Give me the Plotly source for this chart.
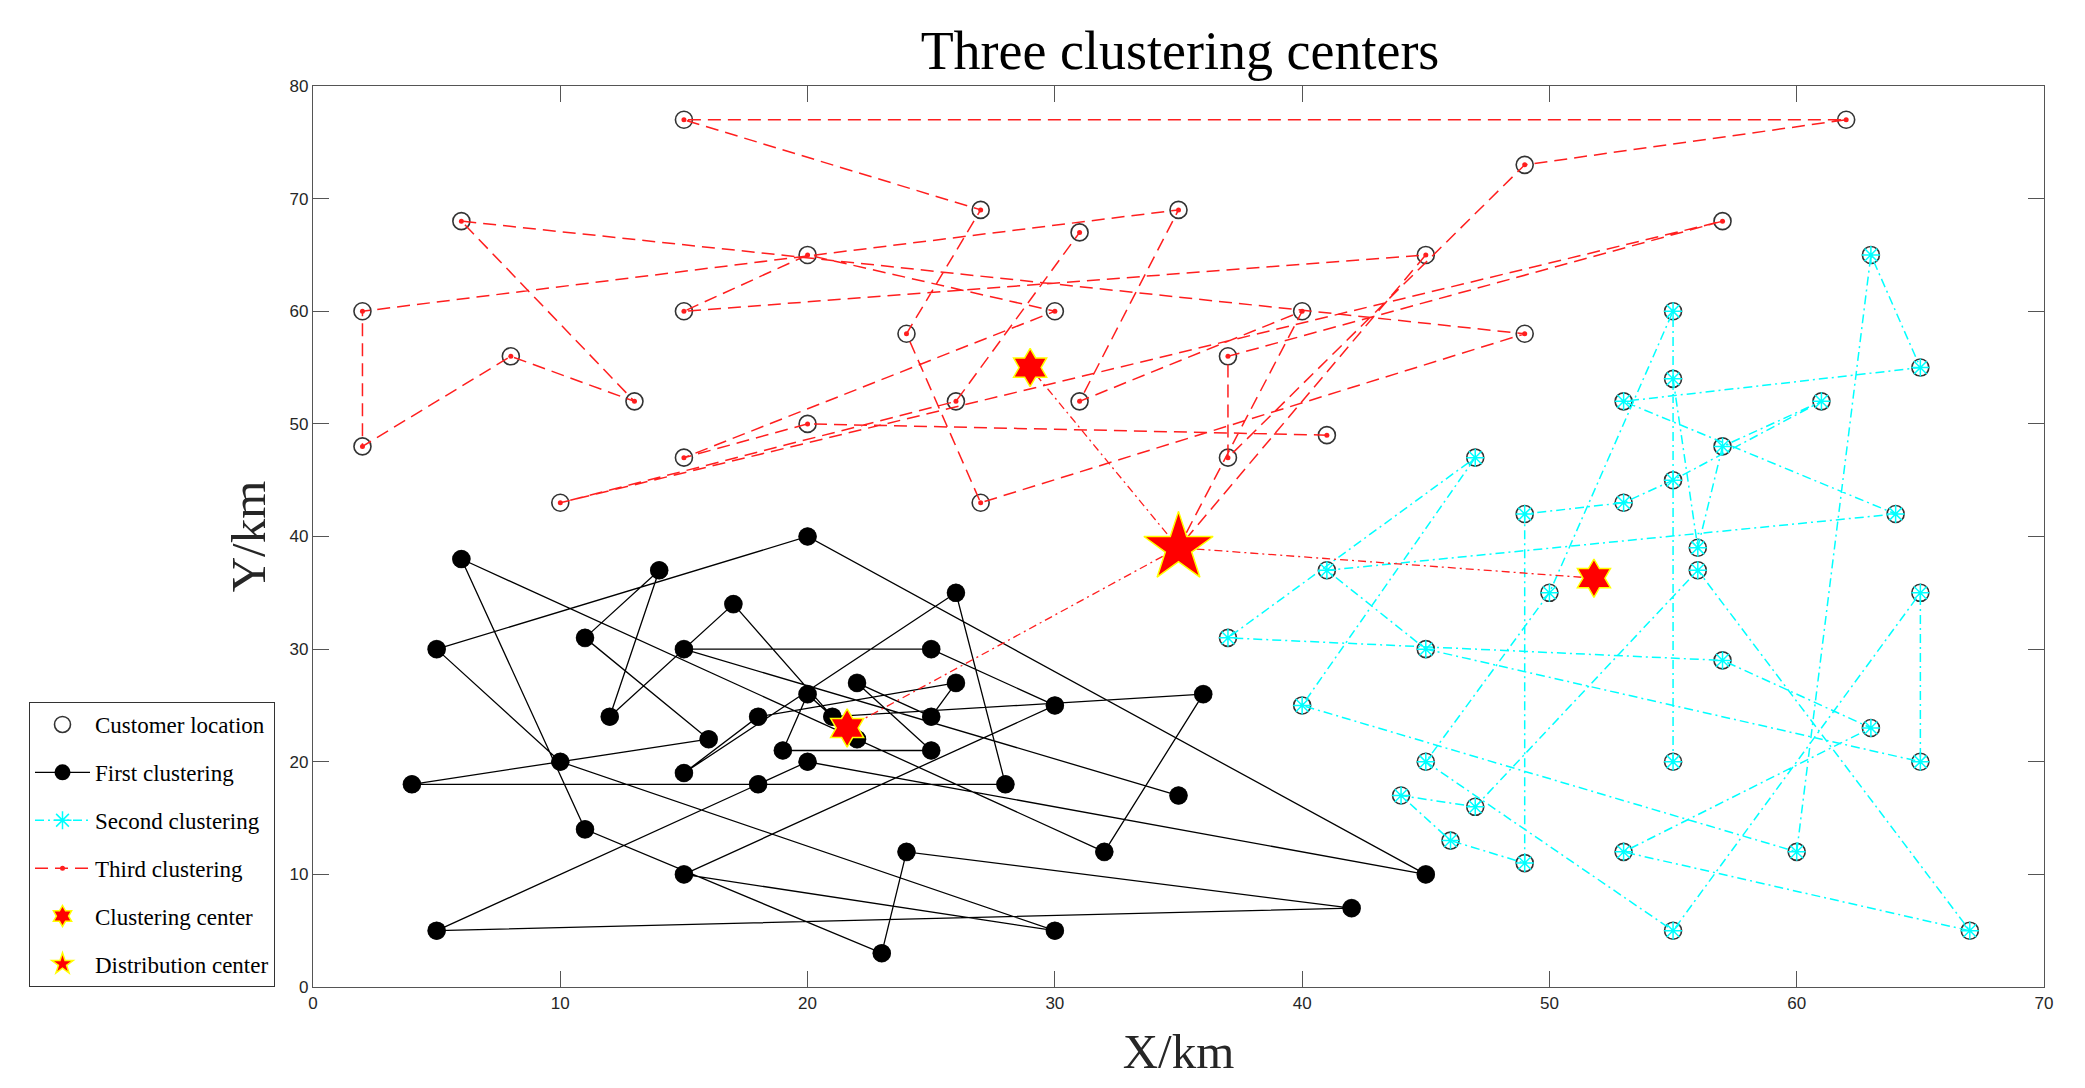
import plotly.graph_objects as go

# ---------------- data ----------------
# First clustering route (black)
first_x = [35, 15, 25, 30, 15, 30, 10, 5, 20, 45, 20, 18, 5, 42, 24, 23, 11, 6, 32, 36,
           21, 17, 12, 14, 11, 16, 4, 28, 26, 15, 18, 26, 25, 22, 25, 19, 20, 22]
first_y = [17, 30, 30, 25, 10, 5, 20, 30, 40, 10, 20, 18, 5, 7, 12, 3, 14, 38, 12, 26,
           24, 34, 24, 37, 31, 22, 18, 18, 35, 19, 24, 27, 24, 27, 21, 21, 26, 22]

# Second clustering route (cyan)
second_x = [55, 56, 57, 61, 55, 53, 49, 49, 46, 44, 47, 56, 67, 53, 63, 57, 37, 47, 40, 60,
            63, 65, 53, 64, 41, 45, 65, 65, 55, 45, 50, 55, 55]
second_y = [54, 39, 48, 52, 45, 43, 42, 11, 13, 17, 16, 37, 5, 12, 23, 29, 31, 47, 25, 12,
            65, 55, 52, 42, 37, 30, 20, 35, 5, 20, 35, 60, 20]

# Third clustering route (red)
third_x = [41, 20, 15, 30, 20, 15, 45, 35, 40, 31, 35, 2, 2, 8, 13, 6, 49, 27, 24, 27,
           15, 62, 49, 37, 37, 57, 10, 26, 31]
third_y = [49, 50, 47, 60, 65, 60, 65, 39, 60, 52, 69, 60, 48, 56, 52, 68, 58, 43, 58, 69,
           77, 77, 73, 47, 56, 68, 43, 52, 67]

# Clustering centers and distribution center
center_x = [21.6, 51.8, 29.0]
center_y = [23.0, 36.3, 55.0]
depot_x = [35.0]
depot_y = [39.0]

# ---------------- styles ----------------
SERIF = "Liberation Serif, Times New Roman, serif"
SANS = "Liberation Sans, Arial, sans-serif"
RED = "rgb(255,30,30)"
CYAN = "rgb(0,255,255)"

fig = go.Figure()

# Customer locations (open circles) for every customer
cust_x = first_x + second_x + third_x
cust_y = first_y + second_y + third_y
fig.add_trace(go.Scatter(
    x=cust_x, y=cust_y, mode="markers", name="Customer location",
    legendgroup="g1",
    marker=dict(symbol="circle-open", size=17, color="#333333", line=dict(width=1.6)),
))

# First clustering
fig.add_trace(go.Scatter(
    x=first_x, y=first_y, mode="lines+markers", name="First clustering",
    legendgroup="g2",
    line=dict(color="black", width=1.3),
    marker=dict(symbol="circle", size=18, color="black"),
))

# Second clustering
fig.add_trace(go.Scatter(
    x=second_x, y=second_y, mode="lines+markers", name="Second clustering",
    legendgroup="g3",
    line=dict(color=CYAN, width=1.5, dash="9px,4px,2px,4px"),
    marker=dict(symbol="asterisk-open", size=15, color=CYAN, line=dict(width=1.5, color=CYAN)),
))

# Third clustering
fig.add_trace(go.Scatter(
    x=third_x, y=third_y, mode="lines+markers", name="Third clustering",
    legendgroup="g4",
    line=dict(color=RED, width=1.5, dash="13px,7px"),
    marker=dict(symbol="circle", size=5, color=RED),
))

# Links distribution center -> clustering centers
lx, ly = [], []
for cx, cy in zip(center_x, center_y):
    lx += [depot_x[0], cx, None]
    ly += [depot_y[0], cy, None]
fig.add_trace(go.Scatter(
    x=lx, y=ly, mode="lines", showlegend=False, hoverinfo="skip",
    line=dict(color=RED, width=1.3, dash="8px,4px,2px,4px"),
))

# Clustering centers
fig.add_trace(go.Scatter(
    x=center_x, y=center_y, mode="markers", name="Clustering center",
    legendgroup="g5",
    marker=dict(symbol="hexagram", size=29, color="red", line=dict(color="yellow", width=1.5)),
))

# Distribution center
fig.add_trace(go.Scatter(
    x=depot_x, y=depot_y, mode="markers", name="Distribution center",
    legendgroup="g6",
    marker=dict(symbol="star", size=52, color="red", line=dict(color="yellow", width=1.5)),
))

axis_common = dict(
    showline=True, linecolor="#555555", linewidth=1.3, mirror="allticks",
    ticks="inside", ticklen=16, tickcolor="#555555", tickwidth=1.2,
    showgrid=False, zeroline=False,
    tickfont=dict(family=SANS, size=17, color="#262626"),
)

# page body has an 8px margin: figure is sized so the plot area lands at
# x 313..2044, y 86..987 of the 2085x1088 window
fig.update_layout(
    width=2077, height=1080,
    margin=dict(l=305, r=41, t=78, b=101),
    paper_bgcolor="white", plot_bgcolor="white",
    title=dict(text="Three clustering centers", x=(1180 - 8) / 2077, xanchor="center",
               y=1 - 42 / 1080, yanchor="middle", yref="container",
               font=dict(family=SERIF, size=54, color="black")),
    xaxis=dict(range=[0, 70], tick0=0, dtick=10,
               title=dict(text="X/km", standoff=22,
                          font=dict(family=SERIF, size=49, color="#262626")),
               **axis_common),
    yaxis=dict(range=[0, 80], tick0=0, dtick=10,
               title=dict(text="Y/km", standoff=8,
                          font=dict(family=SERIF, size=49, color="#262626")),
               **axis_common),
    legend=dict(x=-284 / 1731, y=0.0, xanchor="left", yanchor="bottom",
                bgcolor="white", bordercolor="#333333", borderwidth=1,
                font=dict(family=SERIF, size=23, color="black"),
                tracegroupgap=15, itemwidth=55),
    showlegend=True,
)

fig.write_html("out.html")
